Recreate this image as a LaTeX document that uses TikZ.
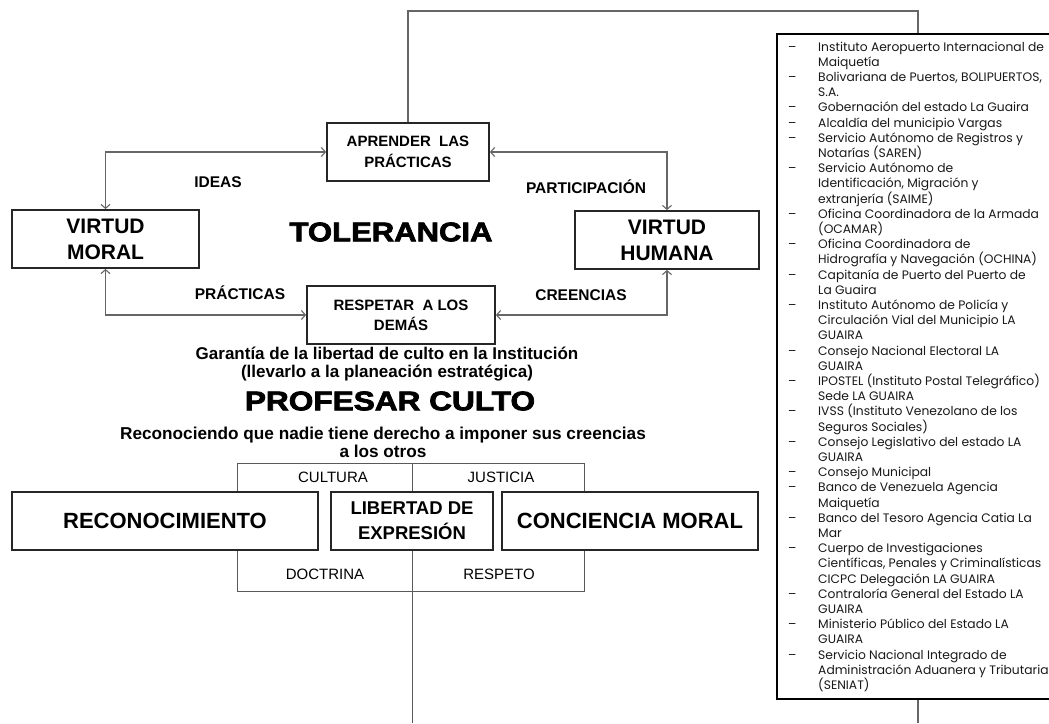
\documentclass[tikz,border=0pt]{standalone}
\usepackage{fontspec}
\setmainfont{Liberation Sans}
\newfontfamily\heavyfont[FakeBold=2.5]{Liberation Sans Bold}
\newfontfamily\listfont{Poppins}
\usetikzlibrary{arrows.meta}
\newcommand\itemdash{\makebox[30pt][l]{–}}
\newcommand\itemind{\hspace*{30pt}}
\begin{document}
\begin{tikzpicture}[x=1pt,y=-1pt,
  box/.style={draw=black!85, line width=1.8pt, minimum height=58pt, inner sep=0pt, align=center},
  link/.style={draw=black!60, line width=1.1pt},
  thinlink/.style={draw=black!65, line width=0.9pt},
  biarrow/.style={link, {Straight Barb[length=4pt,width=9pt]}-{Straight Barb[length=4pt,width=9pt]}},
  lbl/.style={font=\bfseries\fontsize{15.5}{18}\selectfont},
  sublbl/.style={font=\fontsize{15}{18}\selectfont},
  heavy/.style={font=\heavyfont\fontsize{27}{30}\selectfont, inner sep=0pt},
]
\useasboundingbox (0,0) rectangle (1049,723);
\fill[white] (0,0) rectangle (1049,723);

% upper boxes
\node[box, minimum width=162pt, font=\bfseries\fontsize{15}{20.5}\selectfont] (ap) at (408,152) {APRENDER\ \ LAS\\PRÁCTICAS};
\node[box, minimum width=187pt, font=\bfseries\fontsize{21}{26}\selectfont] (vm) at (105.5,239) {VIRTUD\\MORAL};
\node[box, minimum width=184pt, font=\bfseries\fontsize{21}{26}\selectfont] (vh) at (667,240) {VIRTUD\\HUMANA};
\node[box, minimum width=188pt, font=\bfseries\fontsize{15}{20}\selectfont] (rd) at (401,315) {RESPETAR\ \ A LOS\\DEMÁS};

\node[heavy] (tol) at (391,232) {\scalebox{1.15}[1]{TOLERANCIA}};

\node[lbl] (ideas) at (218,182) {IDEAS};
\node[lbl] (part) at (586,187) {PARTICIPACIÓN};
\node[lbl] (prac) at (240,293) {PRÁCTICAS};
\node[lbl] (cree) at (581,295) {CREENCIAS};

\draw[biarrow] (vm.north) |- (ap.west);
\draw[biarrow] (ap.east) -| (vh.north);
\draw[biarrow] (vm.south) |- (rd.west);
\draw[biarrow] (vh.south) |- (rd.east);

% middle texts
\node[font=\bfseries\fontsize{17}{18}\selectfont, align=center] (gar) at (387,364) {Garantía de la libertad de culto en la Institución\\(llevarlo a la planeación estratégica)};
\node[heavy] (prof) at (390,401) {\scalebox{1.17}[1]{PROFESAR CULTO}};
\node[font=\bfseries\fontsize{17.2}{18}\selectfont, align=center] (recon) at (383,442) {Reconociendo que nadie tiene derecho a imponer sus creencias\\a los otros};

% lower boxes
\node[box, minimum width=306pt, font=\bfseries\fontsize{22}{26}\selectfont] (reco) at (165,521) {RECONOCIMIENTO};
\node[box, minimum width=162pt, font=\bfseries\fontsize{18.5}{25}\selectfont] (lib) at (412,521) {LIBERTAD DE\\EXPRESIÓN};
\node[box, minimum width=256pt, font=\bfseries\fontsize{22}{26}\selectfont] (cm) at (630,521) {CONCIENCIA MORAL};

\node[sublbl] (cul) at (333,477) {CULTURA};
\node[sublbl] (jus) at (501,477) {JUSTICIA};
\node[sublbl] (doc) at (325,574) {DOCTRINA};
\node[sublbl] (res) at (499,574) {RESPETO};

\coordinate (xl) at (237,0);
\coordinate (xr) at (584,0);
\coordinate (yt) at (0,463);
\coordinate (yb) at (0,591);
\coordinate (ybot) at (0,723);
\draw[thinlink] (reco.north -| xl) |- (yt -| xr) -- (cm.north -| xr);
\draw[thinlink] (lib.north) -- (lib.north |- yt);
\draw[thinlink] (reco.south -| xl) |- (yb -| xr) -- (cm.south -| xr);
\draw[thinlink] (lib.south) -- (lib.south |- ybot);

% list box (its right side lies beyond the picture's edge)
\node[draw=black, line width=1.8pt, minimum width=330pt, minimum height=665pt, inner sep=0pt, anchor=north west] (list) at (776,33) {};
\node[anchor=north west, inner sep=0pt, align=left, text=black!90, font=\listfont\fontsize{12.3}{15.2}\selectfont] (items) at (788,41.5) {%
\itemdash Instituto Aeropuerto Internacional de\\
\itemind Maiquetía\\
\itemdash Bolivariana de Puertos, BOLIPUERTOS,\\
\itemind S.A.\\
\itemdash Gobernación del estado La Guaira\\
\itemdash Alcaldía del municipio Vargas\\
\itemdash Servicio Autónomo de Registros y\\
\itemind Notarías (SAREN)\\
\itemdash Servicio Autónomo de\\
\itemind Identificación, Migración y\\
\itemind extranjería (SAIME)\\
\itemdash Oficina Coordinadora de la Armada\\
\itemind (OCAMAR)\\
\itemdash Oficina Coordinadora de\\
\itemind Hidrografía y Navegación (OCHINA)\\
\itemdash Capitanía de Puerto del Puerto de\\
\itemind La Guaira\\
\itemdash Instituto Autónomo de Policía y\\
\itemind Circulación Vial del Municipio LA\\
\itemind GUAIRA\\
\itemdash Consejo Nacional Electoral LA\\
\itemind GUAIRA\\
\itemdash IPOSTEL (Instituto Postal Telegráfico)\\
\itemind Sede LA GUAIRA\\
\itemdash IVSS (Instituto Venezolano de los\\
\itemind Seguros Sociales)\\
\itemdash Consejo Legislativo del estado LA\\
\itemind GUAIRA\\
\itemdash Consejo Municipal\\
\itemdash Banco de Venezuela Agencia\\
\itemind Maiquetía\\
\itemdash Banco del Tesoro Agencia Catia La\\
\itemind Mar\\
\itemdash Cuerpo de Investigaciones\\
\itemind Científicas, Penales y Criminalísticas\\
\itemind CICPC Delegación LA GUAIRA\\
\itemdash Contraloría General del Estado LA\\
\itemind GUAIRA\\
\itemdash Ministerio Público del Estado LA\\
\itemind GUAIRA\\
\itemdash Servicio Nacional Integrado de\\
\itemind Administración Aduanera y Tributaria\\
\itemind (SENIAT)};

\coordinate (tr) at (918,11);
\draw[link] (ap.north) |- (tr) -- (tr |- list.north);
\draw[link] (tr |- list.south) -- (tr |- ybot);
\end{tikzpicture}
\end{document}
